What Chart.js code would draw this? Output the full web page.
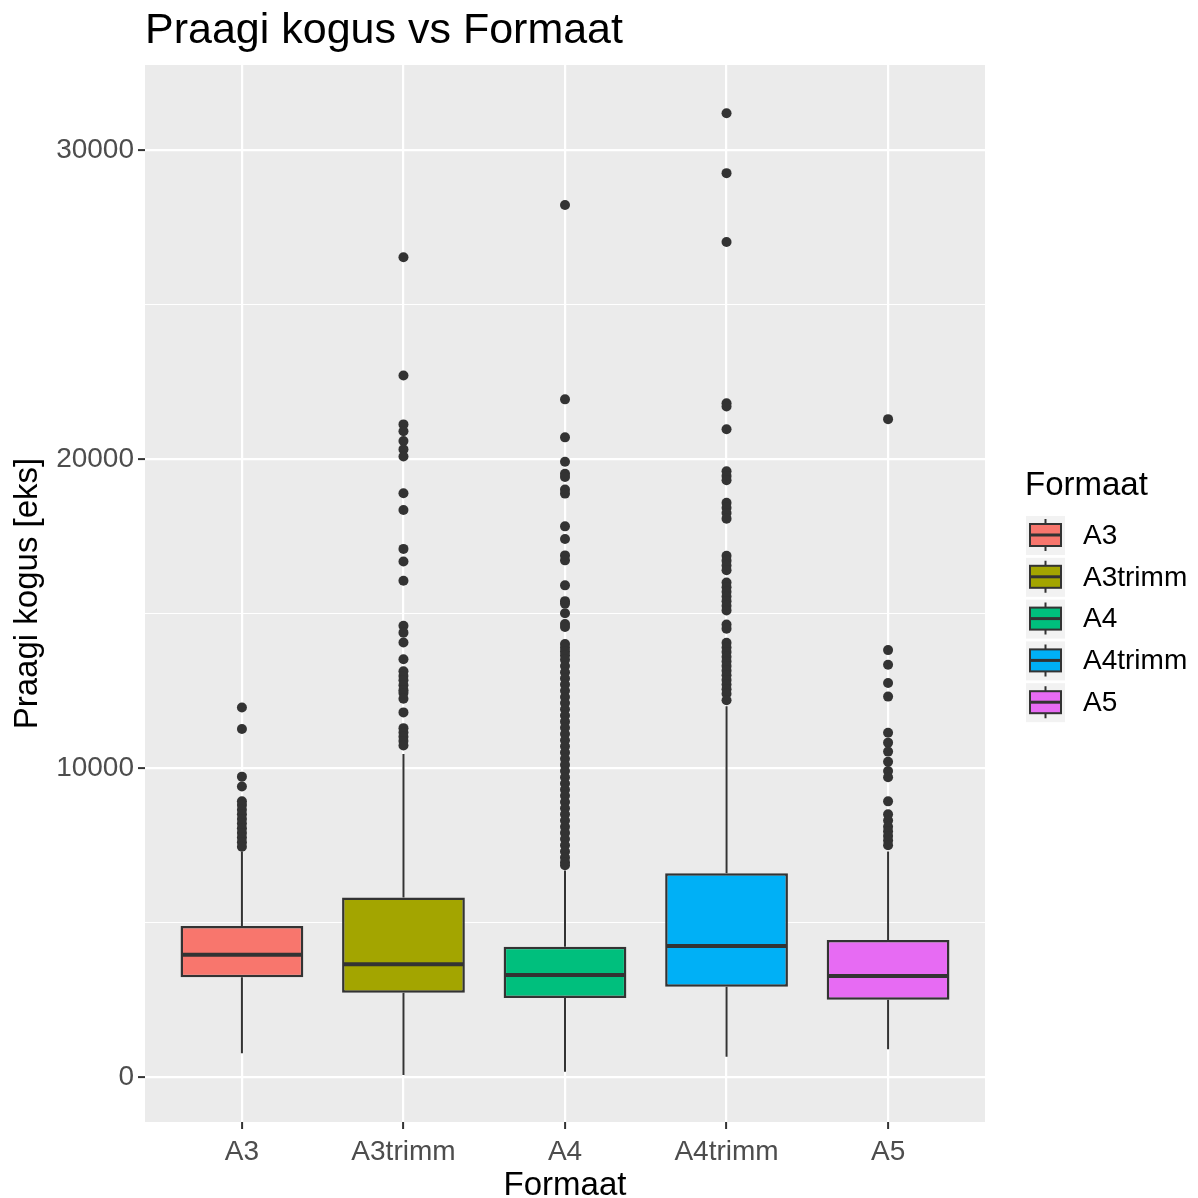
<!DOCTYPE html>
<html>
<head>
<meta charset="utf-8">
<title>Praagi kogus vs Formaat</title>
<script src="https://cdn.jsdelivr.net/npm/chart.js@4.4.1/dist/chart.umd.min.js"></script>
<style>
  html, body { margin: 0; padding: 0; background: #ffffff; }
  #wrap { width: 1198px; height: 1198px; }
</style>
</head>
<body>
<div id="wrap"><canvas id="chart" width="1198" height="1198"></canvas></div>
<script>
// Values
const categories = ['A3', 'A3trimm', 'A4', 'A4trimm', 'A5'];
const boxColors = ['#F8766D', '#A3A500', '#00BF7D', '#00B0F6', '#E76BF3'];

const lowerWhisker = [770, 65, 170, 655, 900];
const q1 = [3230, 2730, 2560, 2920, 2500];
const medians = [3960, 3650, 3300, 4240, 3270];
const q3 = [4890, 5810, 4215, 6590, 4430];
const upperWhisker = [7300, 10450, 6680, 12000, 7300];

const outliersA3 = [11960, 11260, 9720, 9400, 8920, 8800, 8650, 8500, 8350, 8200, 8050, 7900, 7750, 7600, 7450];
const outliersA3trimm = [26530, 22700, 21120, 20900, 20580, 20310, 20080, 18890, 18350, 17090, 16680, 16060,
  14600, 14380, 14060, 13520, 13130, 12980, 12840, 12680, 12520, 12430, 12240, 11800,
  11290, 11150, 11010, 10870, 10730];
const outliersA4 = [28220, 21930, 20700, 19910, 19520, 19420, 19010, 18880, 17820, 17410, 16880, 16720, 15910,
  15400, 15320, 15010, 14660, 14560, 14010, 13890, 13770, 13650,
  13500, 13300, 13100, 12900, 12700, 12500, 12300, 12100, 11900, 11700, 11500, 11300, 11100,
  10900, 10700, 10500, 10300, 10100, 9900, 9700, 9500, 9300, 9100, 8900, 8700, 8500, 8300,
  8100, 7900, 7700, 7500, 7300, 7100, 6950, 6850];
const outliersA4trimm = [31190, 29250, 27020, 21800, 21700, 20960, 19600, 19450, 19310, 18580, 18420, 18250, 18070,
  16870, 16710, 16550, 16400, 16000, 15850, 15700, 15550, 15400, 15250, 15100, 14640, 14510,
  14050, 13900, 13750, 13600, 13450, 13300, 13150, 13000, 12850, 12700, 12550, 12400, 12190];
const outliersA5 = [21290, 13815, 13340, 12750, 12310, 11140, 10820, 10530, 10200, 9900, 9700, 8920,
  8500, 8300, 8100, 7950, 7800, 7650, 7500];
const outlierLists = [outliersA3, outliersA3trimm, outliersA4, outliersA4trimm, outliersA5];

const yMajorTicks = [0, 10000, 20000, 30000];
const yMinorTicks = [5000, 15000, 25000];

const FONT = '"Liberation Sans", Arial, Helvetica, sans-serif';
Chart.defaults.font.family = FONT;

const boxData = categories.map((c, i) => ({ x: i, y: [q1[i], q3[i]] }));
const outlierData = [];
outlierLists.forEach((list, i) => {
  list.forEach(v => outlierData.push({ x: i, y: v }));
});

// grey panel behind the grid
const panelPlugin = {
  id: 'panel',
  beforeDraw(chart) {
    const { ctx, chartArea: a } = chart;
    ctx.save();
    ctx.fillStyle = '#EBEBEB';
    ctx.fillRect(a.left, a.top, a.right - a.left, a.bottom - a.top);
    ctx.restore();
  }
};

// whiskers under the boxes, medians on top
const boxPlotPlugin = {
  id: 'boxPlot',
  beforeDatasetsDraw(chart) {
    const { ctx } = chart;
    const x = chart.scales.x, y = chart.scales.y;
    ctx.save();
    ctx.strokeStyle = '#333333';
    ctx.lineWidth = 2;
    categories.forEach((c, i) => {
      const px = x.getPixelForValue(i);
      ctx.beginPath();
      ctx.moveTo(px, y.getPixelForValue(upperWhisker[i]));
      ctx.lineTo(px, y.getPixelForValue(q3[i]));
      ctx.moveTo(px, y.getPixelForValue(q1[i]));
      ctx.lineTo(px, y.getPixelForValue(lowerWhisker[i]));
      ctx.stroke();
    });
    ctx.restore();
  },
  afterDatasetsDraw(chart) {
    const { ctx } = chart;
    const y = chart.scales.y;
    const meta = chart.getDatasetMeta(0);
    ctx.save();
    ctx.strokeStyle = '#333333';
    ctx.lineWidth = 4;
    meta.data.forEach((bar, i) => {
      const py = y.getPixelForValue(medians[i]);
      ctx.beginPath();
      ctx.moveTo(bar.x - bar.width / 2 + 1, py);
      ctx.lineTo(bar.x + bar.width / 2 - 1, py);
      ctx.stroke();
    });
    ctx.restore();
  }
};

// title, axis titles and the legend
const textPlugin = {
  id: 'texts',
  afterDraw(chart) {
    const { ctx, chartArea: a } = chart;
    ctx.save();
    ctx.fillStyle = '#000000';
    ctx.textBaseline = 'alphabetic';

    ctx.font = '43px ' + FONT;
    ctx.textAlign = 'left';
    ctx.fillText('Praagi kogus vs Formaat', a.left, 43);

    ctx.font = '33px ' + FONT;
    ctx.textAlign = 'center';
    ctx.fillText('Formaat', (a.left + a.right) / 2, 1195);

    ctx.save();
    ctx.translate(37, (a.top + a.bottom) / 2);
    ctx.rotate(-Math.PI / 2);
    ctx.fillText('Praagi kogus [eks]', 0, 0);
    ctx.restore();

    // legend
    ctx.textAlign = 'left';
    ctx.fillText('Formaat', 1025, 495);
    const keyLeft = 1026, keySize = 39, step = 41.8, top0 = 516;
    categories.forEach((c, i) => {
      const top = top0 + i * step;
      ctx.fillStyle = '#F2F2F2';
      ctx.fillRect(keyLeft, top, keySize, keySize);
      const cx = keyLeft + keySize / 2;
      ctx.strokeStyle = '#333333';
      ctx.lineWidth = 2;
      ctx.beginPath();
      ctx.moveTo(cx, top + 3); ctx.lineTo(cx, top + 8);
      ctx.moveTo(cx, top + 30); ctx.lineTo(cx, top + 35);
      ctx.stroke();
      ctx.fillStyle = boxColors[i];
      ctx.fillRect(keyLeft + 4, top + 8, keySize - 8, 22);
      ctx.strokeRect(keyLeft + 4, top + 8, keySize - 8, 22);
      ctx.lineWidth = 3;
      ctx.beginPath();
      ctx.moveTo(keyLeft + 4, top + 19); ctx.lineTo(keyLeft + keySize - 4, top + 19);
      ctx.stroke();
      ctx.fillStyle = '#000000';
      ctx.font = '28px ' + FONT;
      ctx.textBaseline = 'middle';
      ctx.fillText(c, 1083, top + 20);
      ctx.textBaseline = 'alphabetic';
    });
    ctx.restore();
  }
};

new Chart(document.getElementById('chart'), {
  type: 'bar',
  data: {
    datasets: [
      {
        label: 'box',
        data: boxData,
        backgroundColor: boxColors,
        borderColor: '#333333',
        borderWidth: 2.5,
        borderSkipped: false,
        barPercentage: 0.76,
        categoryPercentage: 1
      },
      {
        type: 'scatter',
        label: 'outliers',
        data: outlierData,
        pointRadius: 5,
        pointBackgroundColor: '#333333',
        pointBorderWidth: 0,
        showLine: false
      }
    ]
  },
  options: {
    responsive: false,
    animation: false,
    events: [],
    layout: { padding: { top: 65, right: 213, bottom: 0, left: 0 } },
    plugins: {
      legend: { display: false },
      tooltip: { enabled: false },
      title: { display: false }
    },
    scales: {
      x: {
        type: 'linear',
        min: -0.6,
        max: 4.6,
        offset: false,
        afterBuildTicks: s => { s.ticks = categories.map((c, i) => ({ value: i })); },
        afterFit: s => { s.height = 76; },
        border: { display: false },
        grid: {
          offset: false,
          color: '#FFFFFF',
          lineWidth: 2.2,
          tickColor: '#333333',
          tickLength: 7,
          tickWidth: 2
        },
        ticks: {
          padding: 6,
          color: '#4D4D4D',
          font: { size: 28 },
          maxRotation: 0,
          autoSkip: false,
          callback: v => categories[Math.round(v)]
        }
      },
      y: {
        min: -1456,
        max: 32750,
        afterBuildTicks: s => {
          s.ticks = yMajorTicks.concat(yMinorTicks).sort((a, b) => a - b).map(v => ({ value: v }));
        },
        afterFit: s => { s.width = 145; },
        border: { display: false },
        grid: {
          color: '#FFFFFF',
          lineWidth: ctx => yMajorTicks.includes(ctx.tick && ctx.tick.value) ? 2.2 : 1.1,
          tickColor: ctx => yMajorTicks.includes(ctx.tick && ctx.tick.value) ? '#333333' : 'rgba(0,0,0,0)',
          tickLength: 7,
          tickWidth: 2
        },
        ticks: {
          padding: 4,
          color: '#4D4D4D',
          font: { size: 28 },
          autoSkip: false,
          callback: v => yMajorTicks.includes(v) ? String(v) : ''
        }
      }
    }
  },
  plugins: [panelPlugin, boxPlotPlugin, textPlugin]
});
</script>
</body>
</html>
